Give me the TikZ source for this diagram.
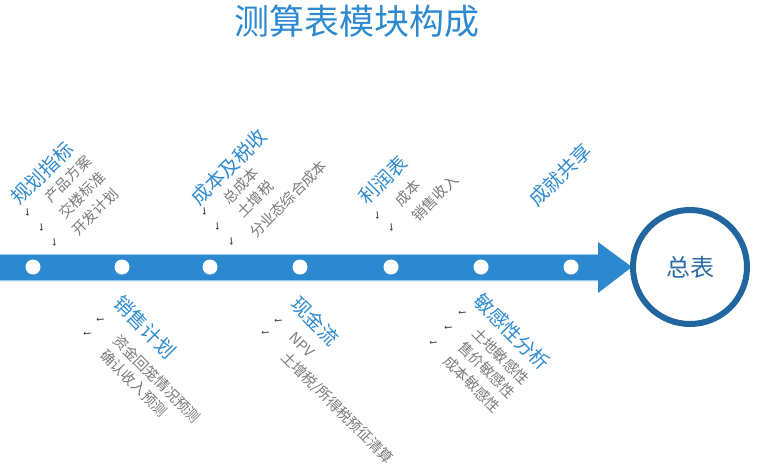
\documentclass[tikz,border=0pt]{standalone}
\usepackage{fontspec}
\newfontfamily\cjk{Noto Sans CJK SC}
\newfontfamily\symfont{DejaVu Sans}
\definecolor{hblue}{HTML}{2E8AD0}
\definecolor{barblue}{HTML}{2D89CF}
\definecolor{baredge}{HTML}{9CCBEE}
\definecolor{cblue}{HTML}{22669F}
\definecolor{tblue}{HTML}{2A6BA6}
\definecolor{igray}{HTML}{7A7A7A}
\definecolor{cgray}{HTML}{3A3A3A}
\tikzset{
  hdr/.style={font=\cjk\fontsize{19.5}{20}\selectfont, text=hblue, inner sep=0pt},
  itm/.style={font=\cjk\fontsize{14.5}{15}\selectfont, text=igray, inner sep=0pt},
  chk/.style={font=\symfont\fontsize{11}{11}\selectfont, text=cgray, inner sep=0pt},
  upr/.style={rotate=45},
  dnr/.style={rotate=-45},
  dot/.style={circle, fill=white, inner sep=0pt, minimum size=15pt}
}
\begin{document}
\begin{tikzpicture}[x=1pt,y=-1pt]
\useasboundingbox (0,0) rectangle (760,471);
% title
\node[font=\cjk\fontsize{35}{36}\selectfont, text=hblue, inner sep=0pt] (title) at (357,21) {测算表模块构成};
% bar + arrow
\fill[barblue] (0,254) -- (598,254) -- (598,242) -- (632,267) -- (598,293) -- (598,281) -- (0,281) -- cycle;
\draw[baredge, line width=1pt] (0,254.5) -- (598,254.5);
\draw[baredge, line width=1pt] (0,280.5) -- (598,280.5);
% dots
\node[dot] (d1) at (33,267) {};
\node[dot] (d2) at (122,267) {};
\node[dot] (d3) at (210,267) {};
\node[dot] (d4) at (300,267) {};
\node[dot] (d5) at (391,267) {};
\node[dot] (d6) at (481,267) {};
\node[dot] (d7) at (571,267) {};
% total circle
\node[circle, draw=cblue, line width=6pt, minimum size=114pt, inner sep=0pt,
      font=\cjk\fontsize{24}{25}\selectfont, text=tblue] (total) at (690,267) {总表};
% ---- top groups ----
\node[hdr, upr] (h1) at (42,173) {规划指标};
\node[itm, upr] (h1a) at (68,179) {产品方案};
\node[itm, upr] (h1b) at (82,195) {交楼标准};
\node[itm, upr] (h1c) at (95,212) {开发计划};
\node[chk, upr] (c1a) at (28,213) {✓};
\node[chk, upr] (c1b) at (42,228) {✓};
\node[chk, upr] (c1c) at (55,243) {✓};

\node[hdr, upr] (h3) at (229,167) {成本及税收};
\node[itm, upr] (h3a) at (241,186) {总成本};
\node[itm, upr] (h3b) at (255,199) {土增税};
\node[itm, upr] (h3c) at (288,199) {分业态综合成本};
\node[chk, upr] (c3a) at (205,212) {✓};
\node[chk, upr] (c3b) at (218,227) {✓};
\node[chk, upr] (c3c) at (232,242) {✓};

\node[hdr, upr] (h5) at (383,180) {利润表};
\node[itm, upr] (h5a) at (408,193) {成本};
\node[itm, upr] (h5b) at (435,198) {销售收入};
\node[chk, upr] (c5a) at (378,216) {✓};
\node[chk, upr] (c5b) at (392,228) {✓};

\node[hdr, upr] (h7) at (560,175) {成就共享};
% ---- bottom groups ----
\node[hdr, dnr] (h2) at (145,327) {销售计划};
\node[itm, dnr] (h2a) at (157,379) {资金回笼情况预测};
\node[itm, dnr] (h2b) at (134,383) {确认收入预测};
\node[chk, dnr] (c2a) at (100,320) {✓};
\node[chk, dnr] (c2b) at (87,334) {✓};

\node[hdr, dnr] (h4) at (315,321) {现金流};
\node[itm, dnr] (h4a) at (302,345) {NPV};
\node[itm, dnr] (h4b) at (337,408) {土增税/所得税预征清算};
\node[chk, dnr] (c4a) at (278,321) {✓};
\node[chk, dnr] (c4b) at (265,333) {✓};

\node[hdr, dnr] (h6) at (512,332) {敏感性分析};
\node[itm, dnr] (h6a) at (501,356) {土地敏感性};
\node[itm, dnr] (h6b) at (487,370) {售价敏感性};
\node[itm, dnr] (h6c) at (472,384) {成本敏感性};
\node[chk, dnr] (c6a) at (462,313) {✓};
\node[chk, dnr] (c6b) at (448,328) {✓};
\node[chk, dnr] (c6c) at (433,343) {✓};
\end{tikzpicture}
\end{document}
